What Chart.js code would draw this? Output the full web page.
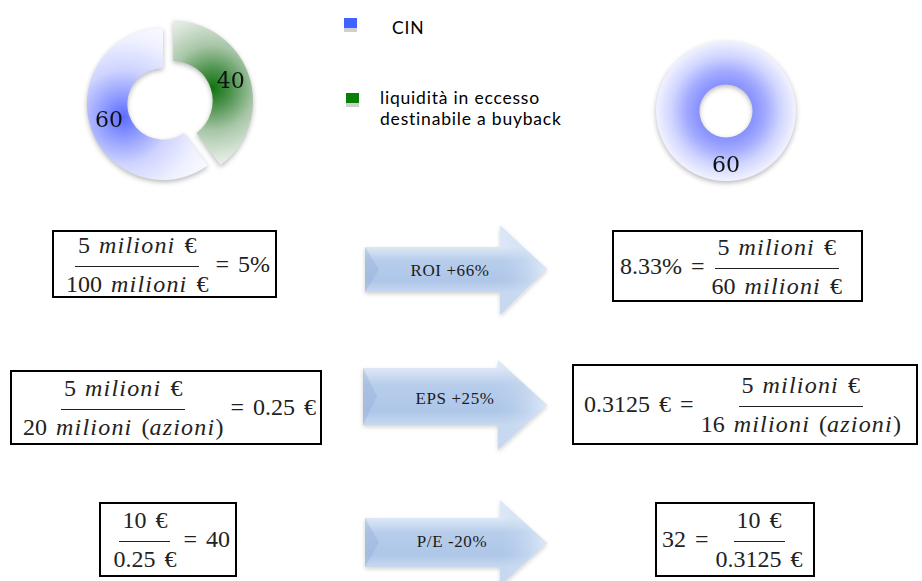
<!DOCTYPE html>
<html>
<head>
<meta charset="utf-8">
<script src="https://cdn.jsdelivr.net/npm/chart.js@4.4.1/dist/chart.umd.min.js"></script>
<style>
  html, body { margin: 0; padding: 0; background: #fff; }
  #stage { position: relative; width: 922px; height: 581px; overflow: hidden; background: #fff; }
  canvas.ring { position: absolute; }
  .legend-item { position: absolute; font-family: Lato, "Liberation Sans", sans-serif; font-size: 17.5px; letter-spacing: 0.8px; line-height: 21px; color: #000; }
  .swatch { position: absolute; width: 13px; height: 10px; box-shadow: 0 4px 0 #cfcfcf; }
  .box {
    position: absolute; box-sizing: border-box; border: 2px solid #000; background: #fff;
    display: flex; align-items: center; justify-content: center; white-space: nowrap;
    font-family: "Liberation Serif", "Times New Roman", serif; font-size: 24px; color: #222; padding: 0 5px;
  }
  .box i { letter-spacing: 1.2px; }
  .frac { display: inline-flex; flex-direction: column; align-items: center; margin: 0 4px; }
  .frac .num { line-height: 24px; padding: 0 3px 9px; border-bottom: 1.5px solid #222; word-spacing: 3px; }
  .frac .den { line-height: 24px; padding: 5px 3px 0; word-spacing: 3px; }
  .rel { word-spacing: 3px; }
  svg#arrows { position: absolute; left: 0; top: 0; }
</style>
</head>
<body>
<div id="stage">
  <svg id="arrows" width="922" height="581"></svg>
  <canvas id="ringBefore" class="ring" width="200" height="200" style="left:63px;top:4px"></canvas>
  <canvas id="ringAfter" class="ring" width="180" height="180" style="left:636px;top:21px"></canvas>

  <div class="box" style="right:645px;top:230px;height:68px">
    <span class="frac"><span class="num">5 <i>milioni</i> €</span><span class="den">100 <i>milioni</i> €</span></span><span class="rel">= 5%</span>
  </div>
  <div class="box" style="left:612px;top:230px;width:251px;height:72px;padding:0 6px 0 0">
    <span class="rel">8.33% =</span><span class="frac"><span class="num">5 <i>milioni</i> €</span><span class="den">60 <i>milioni</i> €</span></span>
  </div>

  <div class="box" style="left:10px;top:370px;width:312px;height:75px">
    <span class="frac"><span class="num">5 <i>milioni</i> €</span><span class="den">20 <i>milioni</i> (<i>azioni</i>)</span></span><span class="rel">= 0.25 €</span>
  </div>
  <div class="box" style="left:572px;top:364px;width:346px;height:81px;padding:0 0 0 2px">
    <span class="rel">0.3125 € =</span><span class="frac"><span class="num">5 <i>milioni</i> €</span><span class="den">16 <i>milioni</i> (<i>azioni</i>)</span></span>
  </div>

  <div class="box" style="right:685px;top:502px;height:75px">
    <span class="frac"><span class="num">10 €</span><span class="den">0.25 €</span></span><span class="rel">= 40</span>
  </div>
  <div class="box" style="left:655px;top:502px;height:75px;padding:0 3px 0 5px">
    <span class="rel">32 =</span><span class="frac"><span class="num">10 €</span><span class="den">0.3125 €</span></span>
  </div>
</div>

<script>
// Capital split before the buyback (share of 100) and after it
const ringBeforeLabels = ['liquidità in eccesso destinabile a buyback', 'CIN'];
const ringBeforeValues = [40, 60];
const ringAfterLabels = ['CIN'];
const ringAfterValues = [60];

// Legend entries and their swatch colours
const legendLabels = ['CIN', 'liquidità in eccesso destinabile a buyback'];
const legendColors = ['#3f63ff', '#088008'];

// Change of each ratio after the buyback
const arrowLabels = ['ROI +66%', 'EPS +25%', 'P/E -20%'];

const stage = document.getElementById('stage');

// ---------- legend ----------
(function drawLegend() {
  const items = [
    { sw: [344, 18], text: [392, 17] },
    { sw: [346, 93], text: [380, 87] }
  ];
  legendLabels.forEach((label, i) => {
    const it = items[i];
    const sw = document.createElement('div');
    sw.className = 'swatch';
    sw.style.left = it.sw[0] + 'px';
    sw.style.top = it.sw[1] + 'px';
    sw.style.background = legendColors[i];
    stage.appendChild(sw);
    const tx = document.createElement('div');
    tx.className = 'legend-item';
    tx.style.left = it.text[0] + 'px';
    tx.style.top = it.text[1] + 'px';
    // wrap the long label onto two lines
    const words = label.split(' ');
    tx.innerHTML = words.length > 3 ? words.slice(0, 3).join(' ') + '<br>' + words.slice(3).join(' ') : label;
    stage.appendChild(tx);
  });
})();

// ---------- arrows ----------
(function drawArrows() {
  const svg = document.getElementById('arrows');
  const shapes = [
    { x0: 365, bt: 247, bb: 292, hx: 500, ht: 225, hb: 315, tx: 547, ty: 269, lx: 450, ly: 272 },
    { x0: 363, bt: 368, bb: 425, hx: 498, ht: 360, hb: 450, tx: 547, ty: 405, lx: 455, ly: 400 },
    { x0: 365, bt: 518, bb: 567, hx: 500, ht: 500, hb: 586, tx: 547, ty: 543, lx: 452, ly: 543 }
  ];
  let defs = `<defs>
    <filter id="soft" x="-10%" y="-20%" width="130%" height="140%">
      <feDropShadow dx="0" dy="2" stdDeviation="2" flood-color="#000" flood-opacity="0.18"/>
    </filter>`;
  shapes.forEach((s, i) => {
    defs += `<linearGradient id="body${i}" gradientUnits="userSpaceOnUse" x1="0" y1="${s.bt}" x2="0" y2="${s.bb}">
        <stop offset="0" stop-color="#dde8f6"/><stop offset="0.3" stop-color="#b7cdeb"/>
        <stop offset="0.75" stop-color="#aec6e8"/><stop offset="1" stop-color="#c7d8ef"/></linearGradient>
      <linearGradient id="head${i}" gradientUnits="userSpaceOnUse" x1="${s.hx}" y1="0" x2="${s.tx}" y2="0">
        <stop offset="0" stop-color="#c0d4ee" stop-opacity="0"/><stop offset="1" stop-color="#e3edf9" stop-opacity="0.9"/></linearGradient>`;
  });
  defs += '</defs>';
  let body = '';
  shapes.forEach((s, i) => {
    const d = `M${s.x0},${s.bt} L${s.hx},${s.bt} L${s.hx},${s.ht} L${s.tx},${s.ty} L${s.hx},${s.hb} L${s.hx},${s.bb} L${s.x0},${s.bb} Z`;
    const head = `M${s.hx},${s.ht} L${s.tx},${s.ty} L${s.hx},${s.hb} Z`;
    const bevel = `M${s.x0},${s.bt} L${s.x0 + 14},${(s.bt + s.bb) / 2} L${s.x0},${s.bb} Z`;
    body += `<path d="${d}" fill="url(#body${i})" filter="url(#soft)"/>`;
    body += `<path d="${head}" fill="url(#head${i})"/>`;
    body += `<path d="${bevel}" fill="#8fa9d3" opacity="0.35"/>`;
    body += `<text x="${s.lx}" y="${s.ly}" text-anchor="middle" dominant-baseline="middle"
      font-family="Liberation Serif, Times New Roman, serif" font-size="17" letter-spacing="0.6"
      fill="#1c1c1c">${arrowLabels[i]}</text>`;
  });
  svg.innerHTML = defs + body;
})();

// ---------- rings ----------
function sliceAngles(values, index) {
  const total = values.reduce((a, b) => a + b, 0);
  let acc = 0;
  for (let k = 0; k < index; k++) acc += values[k];
  const start = -Math.PI / 2 + acc / total * 2 * Math.PI;
  const end = start + values[index] / total * 2 * Math.PI;
  return [start, end];
}

const palettes = {
  blue: [[0, '#5b6cff'], [0.22, '#8f9bff'], [0.5, '#cfd4ff'], [0.8, '#eef0ff'], [1, '#f8f8ff']],
  green: [[0, '#0f740f'], [0.2, '#4e934e'], [0.45, '#a8c6a8'], [0.75, '#e1eae1'], [1, '#f5f7f5']],
  blueRing: [[0, '#8791ff'], [0.3, '#a2aaff'], [0.65, '#d0d5ff'], [1, '#f1f2ff']]
};

// Fill each slice with a glow centred just outside the hole, on the slice's mid angle
function glowFill(paletteNames, spread) {
  return function (ctx) {
    const chart = ctx.chart;
    const area = chart.chartArea;
    const ctrl = chart.getDatasetMeta(ctx.datasetIndex).controller;
    const name = paletteNames[ctx.dataIndex];
    const stops = palettes[name];
    if (!area || !ctrl || !(ctrl.outerRadius > 0)) return stops[1][1];
    const cx = (area.left + area.right) / 2;
    const cy = (area.top + area.bottom) / 2;
    const values = ctx.dataset.data;
    let g;
    if (values.length === 1) {
      g = chart.ctx.createRadialGradient(cx, cy, ctrl.innerRadius, cx, cy, ctrl.outerRadius);
    } else {
      const [s, e] = sliceAngles(values, ctx.dataIndex);
      const mid = (s + e) / 2;
      const r = ctrl.innerRadius + 6;
      const gx = cx + Math.cos(mid) * r, gy = cy + Math.sin(mid) * r;
      g = chart.ctx.createRadialGradient(gx, gy, 0, gx, gy, spread);
    }
    stops.forEach(([o, c]) => g.addColorStop(o, c));
    return g;
  };
}

const ringShadow = {
  id: 'ringShadow',
  beforeDatasetsDraw(chart) {
    const c = chart.ctx;
    c.save();
    c.shadowColor = 'rgba(0,0,0,0.28)';
    c.shadowBlur = 5;
    c.shadowOffsetY = 2;
  },
  afterDatasetsDraw(chart) {
    chart.ctx.restore();
  }
};

const ringValueLabels = {
  id: 'ringValueLabels',
  afterDatasetsDraw(chart, args, opts) {
    const c = chart.ctx;
    const meta = chart.getDatasetMeta(0);
    const values = chart.data.datasets[0].data;
    c.save();
    c.font = '22px "DejaVu Serif", serif';
    c.fillStyle = '#111';
    c.textAlign = 'center';
    c.textBaseline = 'middle';
    meta.data.forEach((arc, i) => {
      const p = arc.getProps(['x', 'y', 'startAngle', 'endAngle', 'innerRadius', 'outerRadius'], true);
      const mid = (p.startAngle + p.endAngle) / 2;
      const off = (arc.options.offset || 0) / 4;
      const fix = 1 - Math.sin(Math.min(Math.PI, p.endAngle - p.startAngle));
      const shift = off * (1 + fix);
      const r = (p.innerRadius + p.outerRadius) / 2 + (opts.lift || 0) + shift;
      c.fillText(String(values[i]), p.x + Math.cos(mid) * r, p.y + Math.sin(mid) * r);
    });
    c.restore();
  }
};

function ringOptions(radius, cutout, lift) {
  return {
    responsive: false,
    animation: false,
    events: [],
    radius: radius,
    cutout: cutout,
    layout: { padding: 0 },
    plugins: {
      legend: { display: false },
      tooltip: { enabled: false },
      ringValueLabels: { lift: lift }
    }
  };
}

new Chart(document.getElementById('ringBefore'), {
  type: 'doughnut',
  data: {
    labels: ringBeforeLabels,
    datasets: [{
      data: ringBeforeValues,
      backgroundColor: glowFill(['green', 'blue'], 95),
      borderWidth: 0,
      offset: [41, 0]
    }]
  },
  options: ringOptions(76, '47%', 1),
  plugins: [ringShadow, ringValueLabels]
});

new Chart(document.getElementById('ringAfter'), {
  type: 'doughnut',
  data: {
    labels: ringAfterLabels,
    datasets: [{
      data: ringAfterValues,
      backgroundColor: glowFill(['blueRing'], 0),
      borderWidth: 0
    }]
  },
  options: ringOptions(70, '38%', 7),
  plugins: [ringShadow, ringValueLabels]
});
</script>
</body>
</html>
